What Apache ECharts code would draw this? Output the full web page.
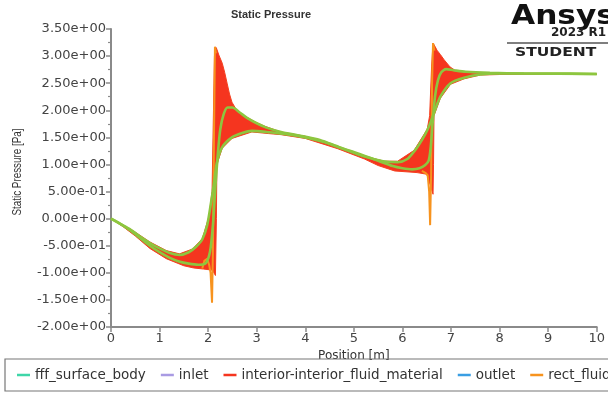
<!DOCTYPE html>
<html>
<head>
<meta charset="utf-8">
<script src="https://cdn.jsdelivr.net/npm/echarts@6/dist/echarts.min.js"></script>
<style>html,body{margin:0;padding:0;background:#fff;}#c{width:608px;height:393px;}</style>
</head>
<body>
<div id="c"></div>
<script>
// ---- data ----
const xTicks = [0, 1, 2, 3, 4, 5, 6, 7, 8, 9, 10];
const yTicks = [-2, -1.5, -1, -0.5, 0, 0.5, 1, 1.5, 2, 2.5, 3, 3.5];
const legendNames = ['fff_surface_body', 'inlet', 'interior-interior_fluid_material', 'outlet', 'rect_fluid_surface'];
const yAxisTitle = 'Static Pressure [Pa]';

// steep green curve
const curveA_x = [0, 0.2, 0.4, 0.6, 0.8, 1.0, 1.2, 1.4, 1.6, 1.8, 1.95, 2.04, 2.1, 2.15, 2.2, 2.25, 2.32, 2.4, 2.5, 2.65, 2.8, 3.0, 3.2, 3.5, 3.9, 4.3, 4.7, 5.1, 5.5, 5.8, 6.0, 6.2, 6.35, 6.47, 6.54, 6.58, 6.62, 6.67, 6.73, 6.8, 6.9, 7.05, 7.3, 7.8, 8.5, 10];
const curveA_p = [0, -0.1, -0.22, -0.36, -0.5, -0.62, -0.72, -0.79, -0.83, -0.85, -0.82, -0.6, -0.1, 0.6, 1.2, 1.65, 1.93, 2.05, 2.05, 1.96, 1.86, 1.76, 1.68, 1.6, 1.53, 1.45, 1.32, 1.2, 1.07, 0.97, 0.93, 0.91, 0.93, 0.99, 1.07, 1.3, 1.75, 2.25, 2.55, 2.7, 2.76, 2.74, 2.71, 2.69, 2.68, 2.67];
// smooth green curve
const curveB_x = [0, 0.2, 0.4, 0.6, 0.8, 1.0, 1.2, 1.41, 1.6, 1.75, 1.88, 1.98, 2.06, 2.12, 2.18, 2.29, 2.49, 2.7, 2.9, 3.2, 3.6, 4.0, 4.4, 4.8, 5.2, 5.6, 5.9, 6.1, 6.25, 6.4, 6.52, 6.65, 6.78, 6.99, 7.27, 7.6, 8, 9, 10];
const curveB_p = [0, -0.1, -0.2, -0.33, -0.45, -0.55, -0.63, -0.67, -0.62, -0.52, -0.38, -0.12, 0.3, 0.65, 1.03, 1.32, 1.5, 1.58, 1.62, 1.6, 1.56, 1.5, 1.41, 1.28, 1.15, 1.06, 1.04, 1.1, 1.25, 1.45, 1.65, 1.95, 2.25, 2.5, 2.6, 2.66, 2.68, 2.68, 2.67];
// interior band outline (upper edge left->right, then lower edge right->left)
const band_x = [0, 0.45, 0.8, 1.14, 1.41, 1.68, 1.88, 2.02, 2.08, 2.11, 2.13, 2.15, 2.17, 2.22, 2.29, 2.34, 2.39, 2.44, 2.49, 2.6, 2.78, 3.0, 3.18, 3.5, 4.0, 4.67, 5.22, 5.63, 5.9, 6.24, 6.51, 6.56, 6.6, 6.63, 6.67, 6.71, 6.78, 6.86, 6.98, 7.08, 7.27, 7.4, 7.6, 8, 9, 10,
                10, 9, 8, 7.6, 7.27, 6.99, 6.78, 6.65, 6.64, 6.63, 6.58, 6.5, 6.3, 5.84, 5.5, 5.22, 4.67, 4.0, 3.5, 3.24, 2.9, 2.49, 2.29, 2.18, 2.17, 2.15, 2.12, 2.08, 1.9, 1.7, 1.5, 1.14, 0.8, 0.5, 0.25, 0];
const band_p = [0, -0.22, -0.43, -0.59, -0.65, -0.56, -0.37, 0.05, 0.5, 2.0, 3.0, 3.17, 3.15, 3.02, 2.87, 2.7, 2.5, 2.3, 2.15, 1.98, 1.88, 1.77, 1.7, 1.6, 1.52, 1.33, 1.15, 1.06, 1.06, 1.26, 1.65, 1.9, 2.8, 3.24, 3.18, 3.11, 3.03, 2.93, 2.8, 2.74, 2.7, 2.69, 2.68, 2.68, 2.68, 2.67,
                2.66, 2.66, 2.66, 2.65, 2.58, 2.48, 2.22, 1.9, 1.0, 0.45, 0.6, 0.82, 0.85, 0.88, 0.98, 1.1, 1.29, 1.48, 1.55, 1.57, 1.6, 1.48, 1.3, 1.0, 0.0, -1.05, -1.0, -0.95, -0.93, -0.91, -0.87, -0.74, -0.55, -0.32, -0.15, 0];
// rect_ spikes
const spike1_x = [1.88, 1.92, 1.98, 2.02, 2.05, 2.08, 2.1, 2.12, 2.14, 2.16];
const spike1_p = [-0.92, -0.78, -0.74, -0.85, -1.0, -1.55, -0.5, 1.5, 3.17, 3.05];
const spike2_x = [6.4, 6.48, 6.52, 6.55, 6.57, 6.59, 6.61, 6.63, 6.66];
const spike2_p = [0.88, 0.84, 0.8, 0.5, -0.12, 0.8, 2.5, 3.24, 3.1];

const pairs = (xs, ps) => xs.map((x, i) => [x, ps[i]]);

function fmtE(v) {
  if (Math.abs(v) < 1e-12) return '0.00e+00';
  let e = Math.floor(Math.log10(Math.abs(v)) + 1e-12);
  let s = (v / Math.pow(10, e)).toFixed(2);
  if (Math.abs(parseFloat(s)) >= 10) { e += 1; s = (v / Math.pow(10, e)).toFixed(2); }
  return s + 'e' + (e < 0 ? '-' : '+') + String(Math.abs(e)).padStart(2, '0');
}

const chart = echarts.init(document.getElementById('c'), null, {renderer: 'canvas'});
const axisGray = '#8a8a8a';
const labelFont = {fontFamily: 'DejaVu Sans', fontSize: 13, color: '#444'};

chart.setOption({
  animation: false,
  backgroundColor: '#fff',
  title: {
    text: 'Static Pressure', left: 266, top: 4, textAlign: 'center',
    textStyle: {fontFamily: 'Liberation Sans', fontWeight: 'bold', fontSize: 11, color: '#333'}
  },
  grid: {left: 111, right: 7, top: 29, bottom: 66, containLabel: false},
  legend: {
    data: legendNames.map(n => ({name: n, icon: 'rect'})),
    left: 5, top: 359, width: 1200, orient: 'horizontal',
    padding: [9, 12, 9, 12],
    itemWidth: 13, itemHeight: 2.5, itemGap: 15,
    borderColor: '#777', borderWidth: 1.2, borderRadius: 0,
    textStyle: {fontFamily: 'DejaVu Sans', fontSize: 13.5, color: '#333'},
    selectedMode: false
  },
  xAxis: {
    type: 'value', min: xTicks[0], max: xTicks[xTicks.length - 1], interval: 1,
    name: 'Position [m]', nameLocation: 'middle', nameGap: 18,
    nameTextStyle: {fontFamily: 'DejaVu Sans', fontSize: 12, color: '#333'},
    axisLine: {onZero: false, lineStyle: {color: axisGray, width: 2}},
    axisTick: {length: 5, lineStyle: {color: axisGray, width: 1.5}},
    axisLabel: Object.assign({margin: 5}, labelFont),
    splitLine: {show: false}
  },
  yAxis: {
    type: 'value', min: yTicks[0], max: yTicks[yTicks.length - 1], interval: 0.5,
    axisLine: {onZero: false, lineStyle: {color: axisGray, width: 2}},
    axisTick: {length: 5, lineStyle: {color: axisGray, width: 1.5}},
    minorTick: {show: true, splitNumber: 2, length: 3, lineStyle: {color: axisGray, width: 1.2}},
    axisLabel: Object.assign({margin: 5, formatter: fmtE}, labelFont),
    splitLine: {show: false}
  },
  graphic: [
    {type: 'text', x: 18, y: 172, rotation: Math.PI / 2, scaleX: 0.82,
      style: {text: yAxisTitle, fontFamily: 'Liberation Sans', fontSize: 12, fill: '#333', textAlign: 'center', textVerticalAlign: 'middle'}},
    {type: 'text', left: 511, top: 4, style: {text: 'Ansys', fontFamily: 'DejaVu Sans', fontWeight: 'bold', fontSize: 26, fill: '#111'}, scaleX: 1.2},
    {type: 'text', left: 551, top: 27, style: {text: '2023 R1', fontFamily: 'DejaVu Sans', fontWeight: 'bold', fontSize: 12, fill: '#222'}},
    {type: 'line', shape: {x1: 507, y1: 43, x2: 608, y2: 43}, style: {stroke: '#555', lineWidth: 1.5}},
    {type: 'text', left: 515, top: 46, style: {text: 'STUDENT', fontFamily: 'DejaVu Sans', fontWeight: 'bold', fontSize: 12.5, fill: '#222'}, scaleX: 1.24}
  ],
  series: [
    {name: 'fff_surface_body', type: 'line', data: [], color: '#3fd6a8', showSymbol: false},
    {name: 'inlet', type: 'line', data: [], color: '#a99be3', showSymbol: false},
    {
      name: 'interior-interior_fluid_material', type: 'custom', color: '#f5351f',
      itemStyle: {color: '#f5351f'},
      data: pairs(band_x, band_p),
      encode: {x: 0, y: 1},
      clip: true,
      renderItem: function (params, api) {
        if (params.dataIndex !== 0) return null;
        const pts = band_x.map((x, i) => api.coord([x, band_p[i]]));
        return {type: 'polygon', shape: {points: pts}, style: {fill: '#f5351f', stroke: '#f5401f', lineWidth: 1}};
      },
      z: 2
    },
    {name: 'outlet', type: 'line', data: [], color: '#3a9ee3', showSymbol: false},
    {name: 'rect_fluid_surface', type: 'line', data: pairs(spike1_x, spike1_p), color: '#f7931e',
      showSymbol: false, lineStyle: {width: 2, color: '#f7931e'}, z: 3},
    {name: 'rect_fluid_surface', type: 'line', data: pairs(spike2_x, spike2_p), color: '#f7931e',
      showSymbol: false, lineStyle: {width: 2, color: '#f7931e'}, z: 3},
    {name: 'wall_a', type: 'line', data: pairs(curveA_x, curveA_p), showSymbol: false, smooth: 0.25,
      lineStyle: {width: 2.6, color: '#8dc63f'}, z: 4},
    {name: 'wall_b', type: 'line', data: pairs(curveB_x, curveB_p), showSymbol: false, smooth: 0.25,
      lineStyle: {width: 2.6, color: '#8dc63f'}, z: 4}
  ]
});
</script>
</body>
</html>
